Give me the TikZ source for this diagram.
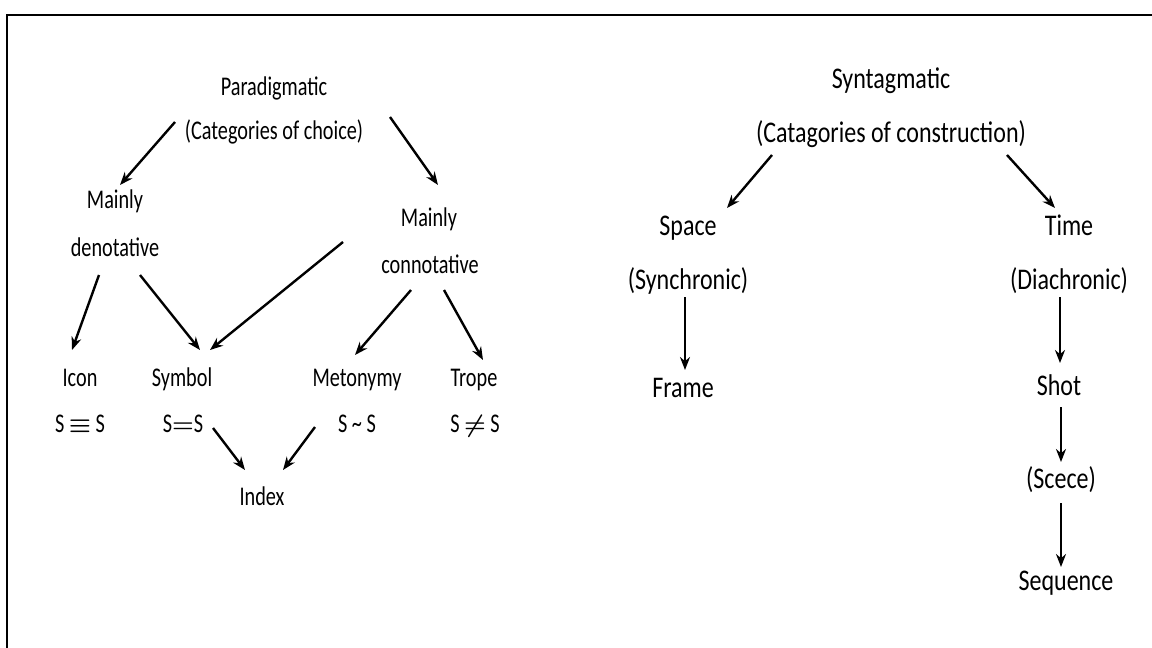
\documentclass[tikz,border=0pt]{standalone}
\usepackage{fontspec}
\setmainfont{Carlito}
\newfontfamily\leftfont{Carlito}[FakeStretch=0.75]
\newfontfamily\rightfont{Carlito}[FakeStretch=0.8]
\usetikzlibrary{arrows.meta}

\begin{document}
\begin{tikzpicture}[x=1pt,y=-1pt,
  lterm/.style={inner sep=0pt,anchor=base,font=\leftfont\fontsize{27}{32}\selectfont},
  rterm/.style={inner sep=0pt,anchor=base,font=\rightfont\fontsize{30}{36}\selectfont},
  arr/.style={line width=2.4pt,-{Stealth[length=13pt,width=10pt]}}
]
  \useasboundingbox (0,0) rectangle (1152,648);
  % frame, cut at the right and bottom
  \draw[line width=2pt] (7,648) -- (7,15) -- (1152,15);

  % paradigmatic side
  \node[lterm] (parad) at (274,95) {Paradigmatic};
  \node[lterm] (choice) at (274,139) {(Categories of choice)};
  \node[lterm] (mainlyL) at (115,208) {Mainly};
  \node[lterm] (denot) at (115,256) {denotative};
  \node[lterm] (mainlyR) at (429,226) {Mainly};
  \node[lterm] (connot) at (430,273) {connotative};
  \node[lterm] (icon) at (80,386) {Icon};
  \node[lterm] (symbol) at (182,386) {Symbol};
  \node[lterm] (meton) at (357,386) {Metonymy};
  \node[lterm] (trope) at (474,386) {Trope};
  \node[lterm] (eqicon) at (80,432) {S\,{\boldmath$\equiv$}\,S};
  \node[lterm] (eqsym) at (183,432) {S{\boldmath$=$}S};
  \node[lterm] (eqmet) at (357,432) {S \textasciitilde\ S};
  \node[lterm] (eqtrope) at (475,432) {S\,{\boldmath$\neq$}\,S};
  \node[lterm] (index) at (262,505) {Index};

  \draw[arr] ([shift={(-99,-17)}]choice.base) -- ([shift={(5,-23)}]mainlyL.base);
  \draw[arr] ([shift={(116,-22)}]choice.base) -- ([shift={(9,-41)}]mainlyR.base);
  \draw[arr] ([shift={(-16,19)}]denot.base) -- ([shift={(-8,-36)}]icon.base);
  \draw[arr] ([shift={(25,19)}]denot.base) -- ([shift={(18,-36)}]symbol.base);
  \draw[arr] ([shift={(-86,16)}]mainlyR.base) -- ([shift={(28,-36)}]symbol.base);
  \draw[arr] ([shift={(-19,17)}]connot.base) -- ([shift={(-2,-31)}]meton.base);
  \draw[arr] ([shift={(14,17)}]connot.base) -- ([shift={(9,-26)}]trope.base);
  \draw[arr] ([shift={(30,-4)}]eqsym.base) -- ([shift={(-17,-35)}]index.base);
  \draw[arr] ([shift={(-42,-5)}]eqmet.base) -- ([shift={(21,-35)}]index.base);

  % syntagmatic side
  \node[rterm] (syntag) at (891,88) {Syntagmatic};
  \node[rterm] (constr) at (891,142) {(Catagories of construction)};
  \node[rterm] (space) at (688,235) {Space};
  \node[rterm] (synch) at (688,289) {(Synchronic)};
  \node[rterm] (time) at (1069,235) {Time};
  \node[rterm] (diach) at (1069,289) {(Diachronic)};
  \node[rterm] (frame) at (683,397) {Frame};
  \node[rterm] (shot) at (1059,395) {Shot};
  \node[rterm] (scene) at (1061,488) {(Scece)};
  \node[rterm] (seq) at (1066,590) {Sequence};

  \draw[arr] ([shift={(-119,13)}]constr.base) -- ([shift={(39,-27)}]space.base);
  \draw[arr] ([shift={(116,13)}]constr.base) -- ([shift={(-14,-27)}]time.base);
  \draw[arr] ([shift={(-3,8)}]synch.base) -- ([shift={(2,-27)}]frame.base);
  \draw[arr] ([shift={(-9,8)}]diach.base) -- ([shift={(1,-32)}]shot.base);
  \draw[arr] ([shift={(2,12)}]shot.base) -- ([shift={(0,-26)}]scene.base);
  \draw[arr] ([shift={(0,15)}]scene.base) -- ([shift={(-5,-23)}]seq.base);
\end{tikzpicture}
\end{document}
